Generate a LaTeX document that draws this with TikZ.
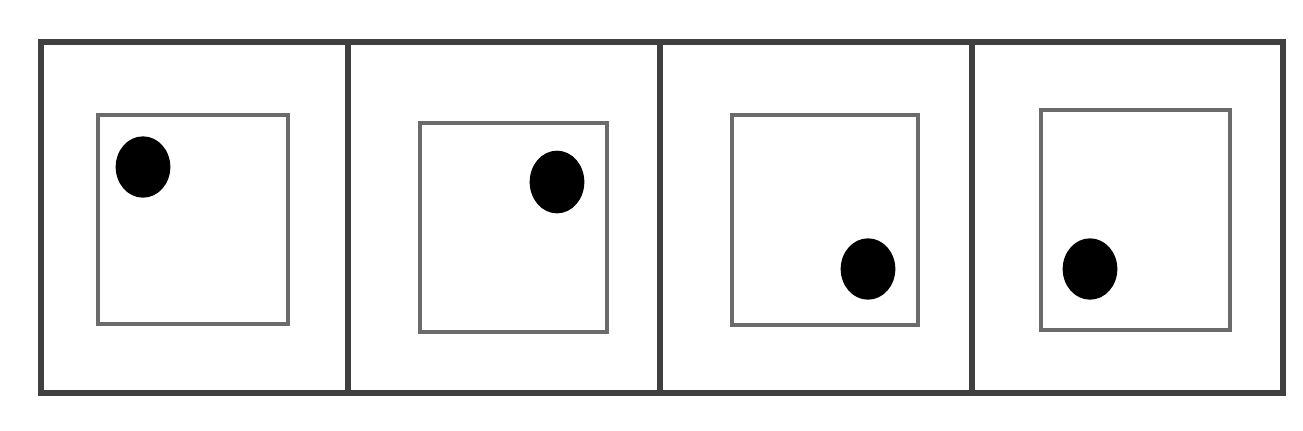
\documentclass[tikz,border=0pt]{standalone}
\begin{document}
\begin{tikzpicture}[x=0.75pt,y=-0.75pt,
  outerline/.style={draw=black!75,line width=4pt},
  innerbox/.style={draw=black!58,line width=3pt},
  dot/.style={fill=black}]
\useasboundingbox[fill=white] (0,0) rectangle (1303,430);
% outer strip and dividers
\draw[outerline] (41,42) rectangle (1283,393);
\draw[outerline] (348,42) -- (348,393);
\draw[outerline] (660,42) -- (660,393);
\draw[outerline] (972,42) -- (972,393);
% inner boxes
\draw[innerbox] (98,115) rectangle (288,324);
\draw[innerbox] (420,123) rectangle (607,332);
\draw[innerbox] (732,115) rectangle (918,325);
\draw[innerbox] (1041,110) rectangle (1230,330);
% dots
\fill[dot] (143,167) ellipse [x radius=20.5pt, y radius=23pt];
\fill[dot] (557,182) ellipse [x radius=20.5pt, y radius=23.5pt];
\fill[dot] (868,269) ellipse [x radius=20.5pt, y radius=23pt];
\fill[dot] (1090,269) ellipse [x radius=20.5pt, y radius=23pt];
\end{tikzpicture}
\end{document}
